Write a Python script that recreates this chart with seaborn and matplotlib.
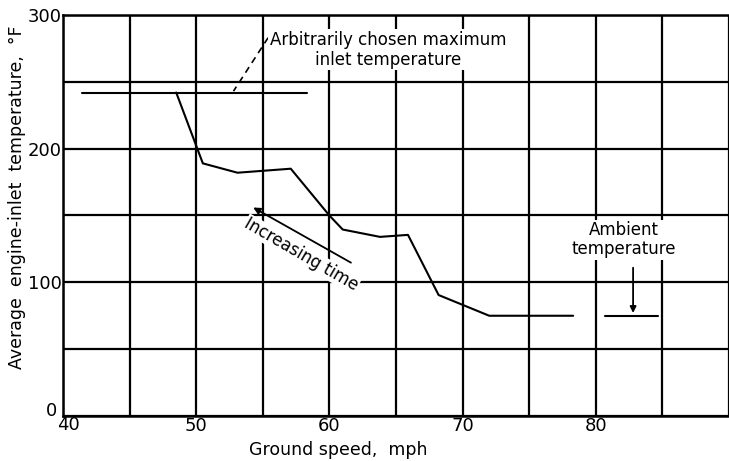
import matplotlib
matplotlib.use("Agg")
import matplotlib.pyplot as plt
import matplotlib.transforms as mtransforms
import seaborn as sns
import pandas as pd
from matplotlib.ticker import MultipleLocator

# veriler
hiz = [48.5, 50.5, 53.1, 57.1, 60.0, 61.0, 63.8, 65.9, 68.2, 72.0, 78.3]
sicaklik = [242, 189, 182, 185, 150, 139.5, 134, 135.5, 90.5, 75, 75]
maks_hiz = [41.4, 58.3]
maks_sicaklik = [242, 242]
ortam_hiz = [80.7, 84.7]
ortam_sicaklik = [75, 75]
x_etiketler = [40, 50, 60, 70, 80]
y_etiketler = [0, 100, 200, 300]

df = pd.DataFrame({"hiz": hiz, "sicaklik": sicaklik})

sns.set_style("white")
plt.rcParams["font.family"] = ["DejaVu Sans"]
plt.rcParams["text.color"] = "black"
plt.rcParams["axes.labelcolor"] = "black"
plt.rcParams["xtick.color"] = "black"
plt.rcParams["ytick.color"] = "black"

fig = plt.figure(figsize=(7.29, 4.61), dpi=100)
ax = fig.add_axes([0.0864, 0.0976, 0.9136, 0.8699])

sns.lineplot(data=df, x="hiz", y="sicaklik", ax=ax, color="black", lw=1.5, sort=False, zorder=3)
sns.lineplot(x=maks_hiz, y=maks_sicaklik, ax=ax, color="black", lw=1.5, zorder=3)
sns.lineplot(x=ortam_hiz, y=ortam_sicaklik, ax=ax, color="black", lw=1.5, zorder=3)

ax.set_xlim(40, 90)
ax.set_ylim(0, 300)
ax.set_xticks(x_etiketler)
ax.set_yticks(y_etiketler)
ax.xaxis.set_minor_locator(MultipleLocator(5))
ax.yaxis.set_minor_locator(MultipleLocator(50))
ax.grid(True, which="both", color="black", lw=1.6, zorder=1)
ax.set_axisbelow(True)
ax.tick_params(which="both", length=0, labelsize=13, pad=1)
for s in ["left", "bottom", "top"]:
    ax.spines[s].set_linewidth(1.8)
    ax.spines[s].set_color("black")
ax.spines["right"].set_visible(False)

# "0" ve "40" etiketlerini biraz kaydir
ax.yaxis.get_major_ticks()[0].label1.set_transform(
    ax.get_yaxis_transform(which="tick1") + mtransforms.ScaledTranslation(-6 / 100, 7 / 100, fig.dpi_scale_trans))
ax.xaxis.get_major_ticks()[0].label1.set_transform(
    ax.get_xaxis_transform(which="tick1") + mtransforms.ScaledTranslation(5 / 100, 0, fig.dpi_scale_trans))

ax.set_xlabel("Ground speed,  mph", fontsize=12.5)
ax.xaxis.set_label_coords(0.413, -0.062)
ax.set_ylabel("Average  engine-inlet  temperature,  °F", fontsize=12.5)
ax.yaxis.set_label_coords(-0.056, 0.545)

# aciklamalar
ax.text(64.4, 274, "Arbitrarily chosen maximum\ninlet temperature", fontsize=12,
        ha="center", va="center", linespacing=1.15, zorder=4,
        bbox=dict(facecolor="white", edgecolor="none", pad=1))
ax.plot([55.4, 52.8], [283, 243], color="black", lw=1.2, ls=(0, (4, 3)), zorder=3)

ax.annotate("", xy=(54.1, 157), xytext=(61.8, 113.7),
            arrowprops=dict(arrowstyle="-|>", color="black", lw=1.3, mutation_scale=10), zorder=4)
ax.text(57.9, 121, "Increasing time", fontsize=12, rotation=-30, rotation_mode="anchor",
        ha="center", va="center", zorder=4,
        bbox=dict(facecolor="white", edgecolor="none", pad=0.5))

ax.text(82.1, 132, "Ambient\ntemperature", fontsize=12, ha="center", va="center",
        linespacing=1.1, zorder=4, bbox=dict(facecolor="white", edgecolor="none", pad=1))
ax.annotate("", xy=(82.8, 75), xytext=(82.8, 113),
            arrowprops=dict(arrowstyle="-|>", color="black", lw=1.3, mutation_scale=9), zorder=4)

fig.savefig("out.png", dpi=100)
